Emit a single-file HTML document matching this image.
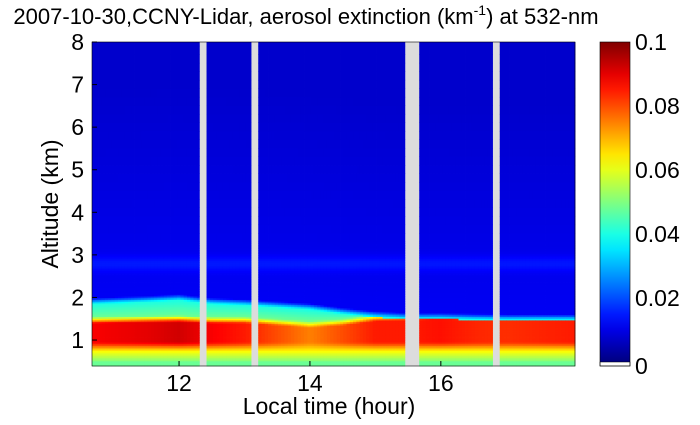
<!DOCTYPE html>
<html><head><meta charset="utf-8"><style>
body{margin:0;background:#fff;width:700px;height:420px;overflow:hidden;font-family:"Liberation Sans",sans-serif}
svg text{font-family:"Liberation Sans",sans-serif;fill:#000}
</style></head><body>
<svg id="c" width="700" height="420">
<defs>
<linearGradient id="cb" x1="0" y1="1" x2="0" y2="0"></linearGradient>
</defs>
<rect x="92" y="42" width="483" height="324" fill="#dcdcdc"/>
<g id="cells"></g>
<text x="306" y="24" text-anchor="middle" font-size="22">2007-10-30,CCNY-Lidar, aerosol extinction (km<tspan font-size="14" dy="-9">-1</tspan><tspan dy="9">) at 532-nm</tspan></text>
<g id="xt"></g>
<g id="yt"></g>
<text x="329" y="414" text-anchor="middle" font-size="23">Local time (hour)</text>
<text transform="translate(58,204) rotate(-90)" text-anchor="middle" font-size="23">Altitude (km)</text>
<rect x="600" y="42" width="30" height="320" fill="url(#cb)"/>
<rect x="600" y="362" width="30" height="4" fill="#fff" stroke="#000" stroke-width="0.5"/>
<g id="ct"></g>
</svg>
<script>
const segments=[[10.67,12.31],[12.42,13.1],[13.21,15.45],[15.67,16.79],[16.9,18.05]];
const pblHours=[10.67,11.5,12.0,12.5,13.0,13.5,14.0,14.5,15.0,15.5,16.0,16.5,17.0,17.5,18.05];
const pblTop=[1.93,1.98,2.02,1.93,1.9,1.85,1.8,1.7,1.62,1.58,1.58,1.56,1.55,1.55,1.55];
const redTop=[1.45,1.47,1.48,1.45,1.45,1.4,1.35,1.4,1.5,1.52,1.55,1.52,1.5,1.5,1.5];
const redStrength=[0.088,0.09,0.092,0.088,0.085,0.08,0.075,0.08,0.085,0.085,0.086,0.084,0.083,0.084,0.085];
const xTicks=[12,14,16];
const yTicks=[1,2,3,4,5,6,7,8];
const cbTicks=[0,0.02,0.04,0.06,0.08,0.1];
const vmax=0.1;
const X=h=>92+(h-10.67)/(18.05-10.67)*483;
const Y=z=>366-(z-0.39)/(8-0.39)*324;
const CY=v=>362-v/vmax*320;
function interp(arr,t){for(let i=0;i<pblHours.length-1;i++){if(t<=pblHours[i+1]){const f=(t-pblHours[i])/(pblHours[i+1]-pblHours[i]);return arr[i]+f*(arr[i+1]-arr[i]);}}return arr[arr.length-1];}
function jet(v){const t=Math.max(0,Math.min(1,v/vmax));const c=x=>Math.round(255*Math.max(0,Math.min(1,1.5-Math.abs(x))));return`rgb(${c(4*t-3)},${c(4*t-2)},${c(4*t-1)})`;}
function lerp(a,b,f){f=Math.max(0,Math.min(1,f));return a+(b-a)*f;}
function ext(t,z){const top=interp(pblTop,t),rt=interp(redTop,t),rs=interp(redStrength,t);
 if(z>top+0.06){let v=lerp(0.0115,0.0075,(z-top)/5)+0.004*Math.exp(-Math.pow((z-2.8)/0.18,2));return v;}
 if(z>top-0.08)return lerp(0.04,0.012,(z-top+0.08)/0.14);
 if(z>rt+0.1)return lerp(0.048,0.04,(z-rt-0.1)/(top-rt-0.18+0.01));
 if(z>rt-0.05)return lerp(rs,0.048,(z-rt+0.05)/0.15);
 if(z>0.95)return rs;
 if(z>0.75)return lerp(0.063,rs,(z-0.75)/0.2);
 if(z>0.5)return lerp(0.05,0.063,(z-0.5)/0.25);
 return 0.048;}
const svg=document.getElementById('c'),NS='http://www.w3.org/2000/svg',g=document.getElementById('cells');
function mk(tag,a,p){const e=document.createElementNS(NS,tag);for(const k in a)e.setAttribute(k,a[k]);(p||g).appendChild(e);return e;}
const dt=0.05;
segments.forEach(s=>{
 for(let t=s[0];t<s[1]-1e-6;t+=dt){const t2=Math.min(t+dt,s[1]);
  let z=0.39;
  while(z<8-1e-6){const dz=z<3.3?0.04:0.2;const z2=Math.min(z+dz,8);
   const r=mk('rect',{x:X(t),y:Y(z2),width:X(t2)-X(t)+0.4,height:Y(z)-Y(z2)+0.4,fill:jet(ext((t+t2)/2,(z+z2)/2))});
   
   
   z=z2;}}
});
const cb=document.getElementById('cb');
for(let i=0;i<=20;i++){mk('stop',{offset:i/20,'stop-color':jet(i/20*vmax)},cb);}
mk('rect',{x:92,y:42,width:483,height:324,fill:'none',stroke:'#000','stroke-width':0.6},svg);
const xt=document.getElementById('xt');
xTicks.forEach(h=>{mk('line',{x1:X(h),x2:X(h),y1:366,y2:361,stroke:'#000'},xt);
 const tx=mk('text',{x:X(h),y:391,'text-anchor':'middle','font-size':23},xt);tx.textContent=h;
 });
const yt=document.getElementById('yt');
yTicks.forEach(v=>{mk('line',{x1:92,x2:97,y1:Y(v),y2:Y(v),stroke:'#000'},yt);
 const tx=mk('text',{x:84,y:Y(v)+8,'text-anchor':'end','font-size':23},yt);tx.textContent=v;
 });
const ct=document.getElementById('ct');
mk('rect',{x:600,y:42,width:30,height:324,fill:'none',stroke:'#000','stroke-width':0.6},ct);
cbTicks.forEach(v=>{const y=v===0?366:CY(v);
 const tx=mk('text',{x:635,y:y+8,'font-size':23},ct);tx.textContent=v;
 });
</script>
</body></html>
